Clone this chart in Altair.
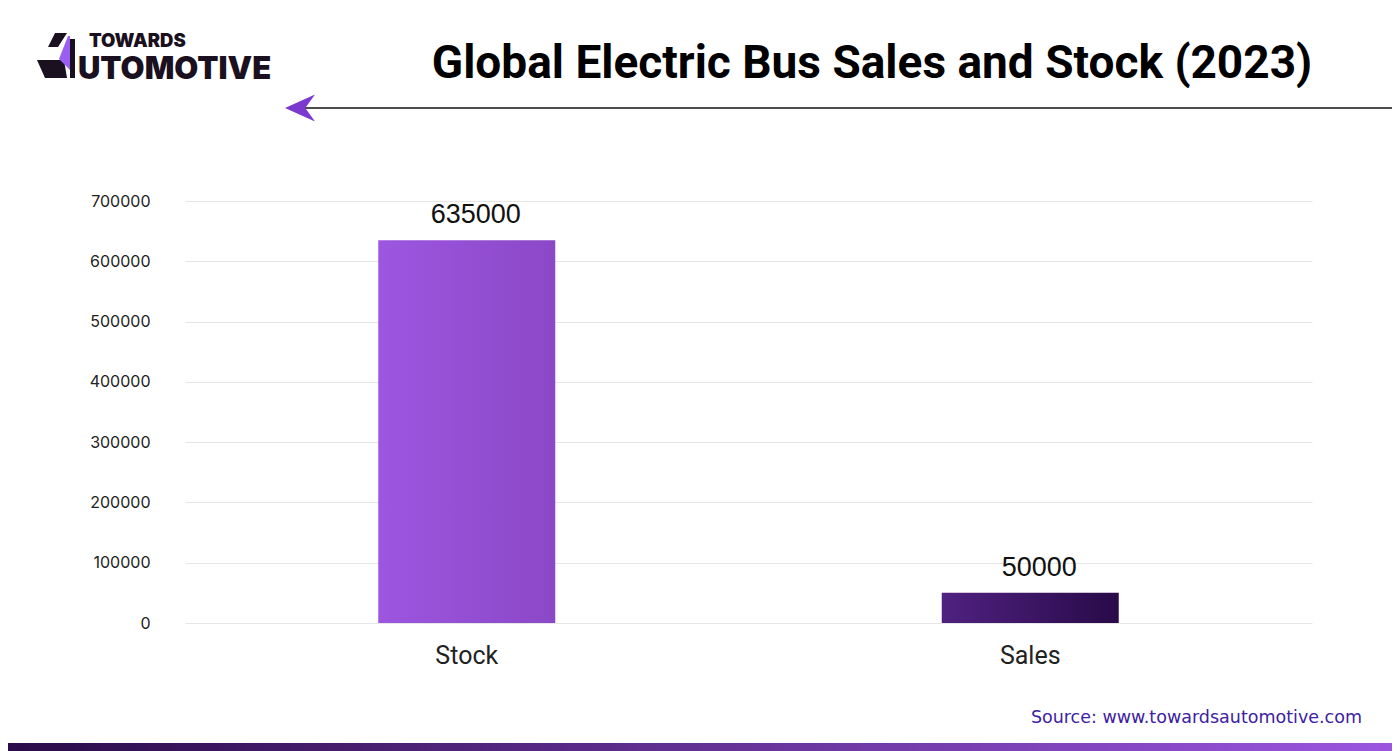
import altair as alt
import pandas as pd

# ---- data ----
categories = ["Stock", "Sales"]
values = [635000, 50000]
y_ticks = [0, 100000, 200000, 300000, 400000, 500000, 600000, 700000]
title_text = "Global Electric Bus Sales and Stock (2023)"
source_text = "Source: www.towardsautomotive.com"

df = pd.DataFrame({"category": categories, "value": values})

W, H = 1127, 422          # plot area
PAD_L, PAD_T = 177, 193   # page offset minus 8px margin
TOTAL_W, TOTAL_H = 1384, 743

def px(page_x):
    return page_x - 185

def py(page_y):
    return page_y - 201

x_enc = alt.X(
    "category:N",
    sort=categories,
    scale=alt.Scale(paddingInner=0.1, paddingOuter=0.05),
    axis=alt.Axis(
        title=None, labelAngle=0, labelFontSize=25, labelFont="Roboto",
        labelColor="#222222", labelPadding=20, ticks=False, domain=False, grid=False,
    ),
)
y_enc = alt.Y(
    "value:Q",
    scale=alt.Scale(domain=[0, 700000], nice=False),
    axis=alt.Axis(
        title=None, values=y_ticks, format="d", labelFontSize=16, labelFont="Inter",
        labelColor="#222222", labelPadding=35, ticks=False, domain=False,
        grid=True, gridColor="#e6e6e6", gridWidth=1,
    ),
)

base = alt.Chart(df)

stock_grad = alt.LinearGradient(
    gradient="linear", x1=0, x2=1, y1=0, y2=0,
    stops=[alt.GradientStop(color="#9c56e1", offset=0), alt.GradientStop(color="#8b48c6", offset=1)],
)
sales_grad = alt.LinearGradient(
    gradient="linear", x1=0, x2=1, y1=0, y2=0,
    stops=[alt.GradientStop(color="#502181", offset=0), alt.GradientStop(color="#290a48", offset=1)],
)

bar_stock = base.transform_filter(alt.datum.category == "Stock").mark_bar(
    size=177, color=stock_grad
).encode(x=x_enc, y=y_enc)
bar_sales = base.transform_filter(alt.datum.category == "Sales").mark_bar(
    size=177, color=sales_grad
).encode(x=x_enc, y=y_enc)

value_labels = base.mark_text(
    baseline="alphabetic", dx=9, dy=-17, fontSize=27, font="Liberation Sans", color="#111111"
).encode(x=alt.X("category:N", sort=categories), y="value:Q", text=alt.Text("value:Q", format="d"))

# ---- decorations ----
deco = pd.DataFrame({"k": [0]})
dbase = alt.Chart(deco)

title = dbase.mark_text(
    text=title_text, fontSize=46, font="Roboto", fontWeight="bold", color="#000000",
    align="center", baseline="alphabetic",
).encode(x=alt.value(px(872)), y=alt.value(py(78)))

line = dbase.mark_rule(color="#111111", strokeWidth=1.5).encode(
    x=alt.value(px(305)), x2=alt.value(px(1400)), y=alt.value(py(108))
)

arrow = dbase.mark_point(
    shape="M -1 0 L 1 -0.9 L 0.35 0 L 1 0.9 Z", size=900, filled=True, opacity=1,
    color="#7a3ad0",
).encode(x=alt.value(px(300)), y=alt.value(py(108)))

logo_top = dbase.mark_text(
    text="TOWARDS", fontSize=18.5, font="Inter", fontWeight=900, color="#1a1020",
    align="left", baseline="middle",
).encode(x=alt.value(px(89)), y=alt.value(py(40.5)))

logo_main = dbase.mark_text(
    text="UTOMOTIVE", fontSize=31, font="Inter", fontWeight=900, color="#1a1020",
    align="left", baseline="middle",
).encode(x=alt.value(px(78)), y=alt.value(py(69.5)))

# stylised "A" of the logo, drawn as pixel paths in page coordinates (size=4 -> unit = 1px)
logo_black_path = (
    "M 55 33 L 67 33 L 58 47 L 48 47 Z "
    "M 37 60 L 64 60 L 67 78 L 45 78 Z "
    "M 70 39 L 75 39 L 75 78 L 70 78 Z"
)
logo_purple_path = "M 68 36 L 70 36 L 70 70 L 59 59 Z"

logo_black = dbase.mark_point(
    shape=logo_black_path, size=4, filled=True, opacity=1, color="#1a1020",
).encode(x=alt.value(px(0)), y=alt.value(py(0)))
logo_purple = dbase.mark_point(
    shape=logo_purple_path, size=4, filled=True, opacity=1, color="#9a5ef0",
).encode(x=alt.value(px(0)), y=alt.value(py(0)))

source = dbase.mark_text(
    text=source_text, fontSize=17.5, font="DejaVu Sans", color="#3d21a2",
    align="right", baseline="alphabetic",
).encode(x=alt.value(px(1362)), y=alt.value(py(723)))

bottom_grad = alt.LinearGradient(
    gradient="linear", x1=0, x2=1, y1=0, y2=0,
    stops=[alt.GradientStop(color="#2a0b48", offset=0), alt.GradientStop(color="#9c56e1", offset=1)],
)
bottom_bar = dbase.mark_rect(color=bottom_grad).encode(
    x=alt.value(px(0)), x2=alt.value(px(1400)), y=alt.value(py(743)), y2=alt.value(py(751))
)

chart = alt.layer(
    bar_stock, bar_sales, value_labels, title, line, arrow,
    logo_top, logo_main, logo_black, logo_purple, source, bottom_bar,
).properties(
    width=W, height=H,
    background="white",
    autosize=alt.AutoSizeParams(type="none"),
    padding={"left": PAD_L, "top": PAD_T, "right": TOTAL_W - PAD_L - W, "bottom": TOTAL_H - PAD_T - H},
).configure_view(strokeWidth=0, stroke=None)

chart.save("out.html", embed_options={"renderer": "svg", "actions": False})
